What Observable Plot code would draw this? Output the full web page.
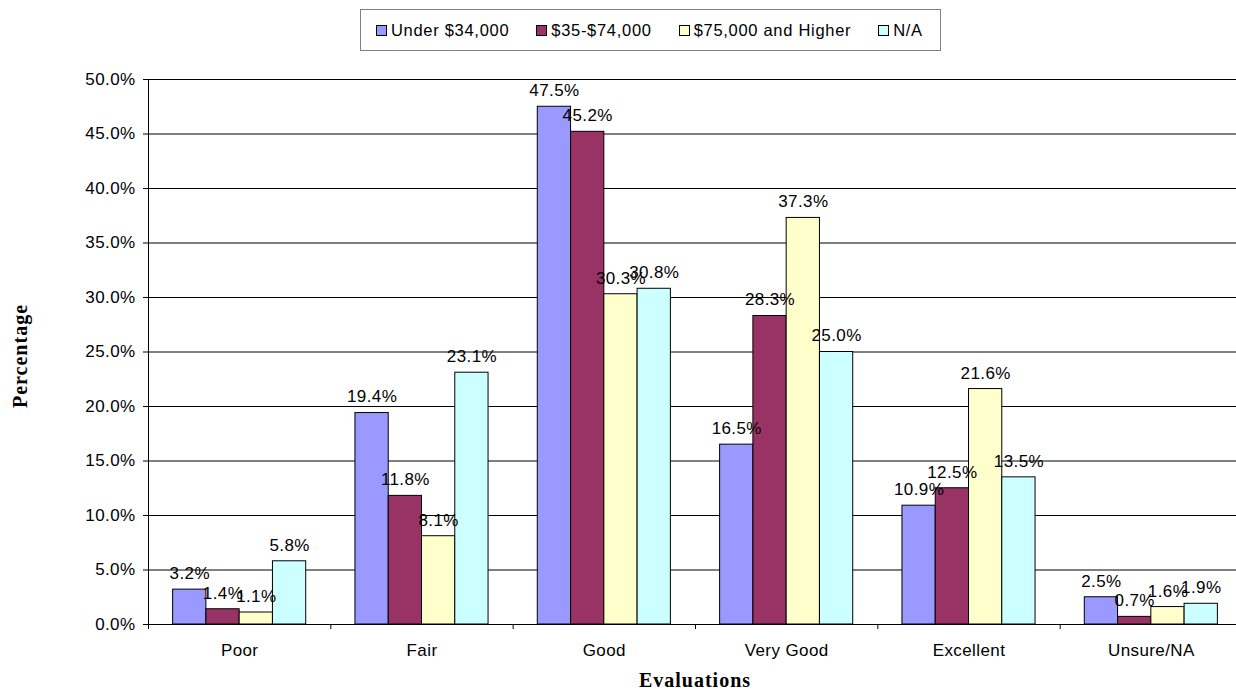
<!DOCTYPE html>
<html>
<head>
<meta charset="utf-8">
<script src="https://cdn.jsdelivr.net/npm/d3@7"></script>
<script src="https://cdn.jsdelivr.net/npm/@observablehq/plot@0.6"></script>
<style>
  html, body { margin: 0; padding: 0; background: #fff; overflow: hidden; }
  #wrap { position: relative; width: 1236px; height: 690px; }
  #legend {
    position: absolute; left: 360px; top: 9px; width: 581px; height: 42px;
    box-sizing: border-box; border: 1px solid #808080; background: #fff;
    display: flex; align-items: center; padding-left: 15px; gap: 27px;
    font-family: "Liberation Sans", Arial, sans-serif; font-size: 16.5px; letter-spacing: 0.7px; color: #000;
  }
  .item { display: flex; align-items: center; white-space: nowrap; }
  .sw { width: 9px; height: 9px; border: 1px solid #000; margin-right: 4px; }
</style>
</head>
<body>
<div id="wrap">
  <div id="chart"></div>
  <div id="legend"></div>
</div>
<script>
const categories = ["Poor", "Fair", "Good", "Very Good", "Excellent", "Unsure/NA"];
const seriesNames = ["Under $34,000", "$35-$74,000", "$75,000 and Higher", "N/A"];
const under34 = [3.2, 19.4, 47.5, 16.5, 10.9, 2.5];
const mid35to74 = [1.4, 11.8, 45.2, 28.3, 12.5, 0.7];
const high75 = [1.1, 8.1, 30.3, 37.3, 21.6, 1.6];
const notAvail = [5.8, 23.1, 30.8, 25.0, 13.5, 1.9];
const colors = ["#9999FF", "#993366", "#FFFFCC", "#CCFFFF"];
const yTicks = [0, 5, 10, 15, 20, 25, 30, 35, 40, 45, 50];

const seriesValues = [under34, mid35to74, high75, notAvail];
const groupFrac = 0.73;               // share of each category slot used by the bar group
const barFrac = groupFrac / seriesNames.length;
const offset = (1 - groupFrac) / 2;

const rows = [];
seriesValues.forEach((vals, j) => {
  vals.forEach((v, i) => {
    const x1 = i + offset + j * barFrac;
    rows.push({category: categories[i], series: seriesNames[j], value: v, x1, x2: x1 + barFrac, xm: x1 + barFrac / 2});
  });
});

const fmt = d => d.toFixed(1) + "%";

const plot = Plot.plot({
  width: 1236,
  height: 690,
  marginLeft: 148,
  marginRight: -6,
  marginTop: 79,
  marginBottom: 66,
  style: {fontFamily: "'Liberation Sans', Arial, sans-serif", fontSize: "17px", letterSpacing: "0.4px", color: "#000", background: "#fff", overflow: "visible"},
  x: {domain: [0, categories.length]},
  y: {domain: [0, 50]},
  color: {domain: seriesNames, range: colors},
  marks: [
    Plot.ruleY(yTicks.filter(d => d > 0), {stroke: "#000", strokeWidth: 1}),
    Plot.rectY(rows, {x1: "x1", x2: "x2", y1: 0, y2: "value", fill: "series", stroke: "#000", strokeWidth: 1}),
    Plot.text(rows, {x: "xm", y: "value", text: d => fmt(d.value), dy: -16, fill: "#000"}),
    Plot.ruleY([0], {stroke: "#000"}),
    Plot.ruleX([0], {y1: 0, y2: 50, stroke: "#000"}),
    Plot.axisY({ticks: yTicks, tickFormat: fmt, tickSize: 5, tickPadding: 8, label: null}),
    Plot.axisX({ticks: d3.range(0, categories.length + 1), tickSize: 5, tickFormat: () => "", label: null}),
    Plot.axisX({ticks: categories.map((c, i) => i + 0.5), tickSize: 0, tickPadding: 19, tickFormat: d => categories[Math.floor(d)], label: null})
  ]
});

const svg = d3.select(plot);
svg.append("text")
  .attr("x", 695).attr("y", 687)
  .attr("text-anchor", "middle")
  .style("font-family", "'Liberation Serif', 'Times New Roman', serif")
  .style("font-weight", "bold").style("font-size", "20px").style("letter-spacing", "1px")
  .attr("fill", "#000")
  .text("Evaluations");
svg.append("text")
  .attr("transform", "translate(27,356) rotate(-90)")
  .attr("text-anchor", "middle")
  .style("font-family", "'Liberation Serif', 'Times New Roman', serif")
  .style("font-weight", "bold").style("font-size", "20px").style("letter-spacing", "1px")
  .attr("fill", "#000")
  .text("Percentage");

document.getElementById("chart").appendChild(plot);

const legend = d3.select("#legend");
seriesNames.forEach((name, j) => {
  const item = legend.append("div").attr("class", "item");
  item.append("div").attr("class", "sw").style("background", colors[j]);
  item.append("span").text(name);
});
</script>
</body>
</html>
